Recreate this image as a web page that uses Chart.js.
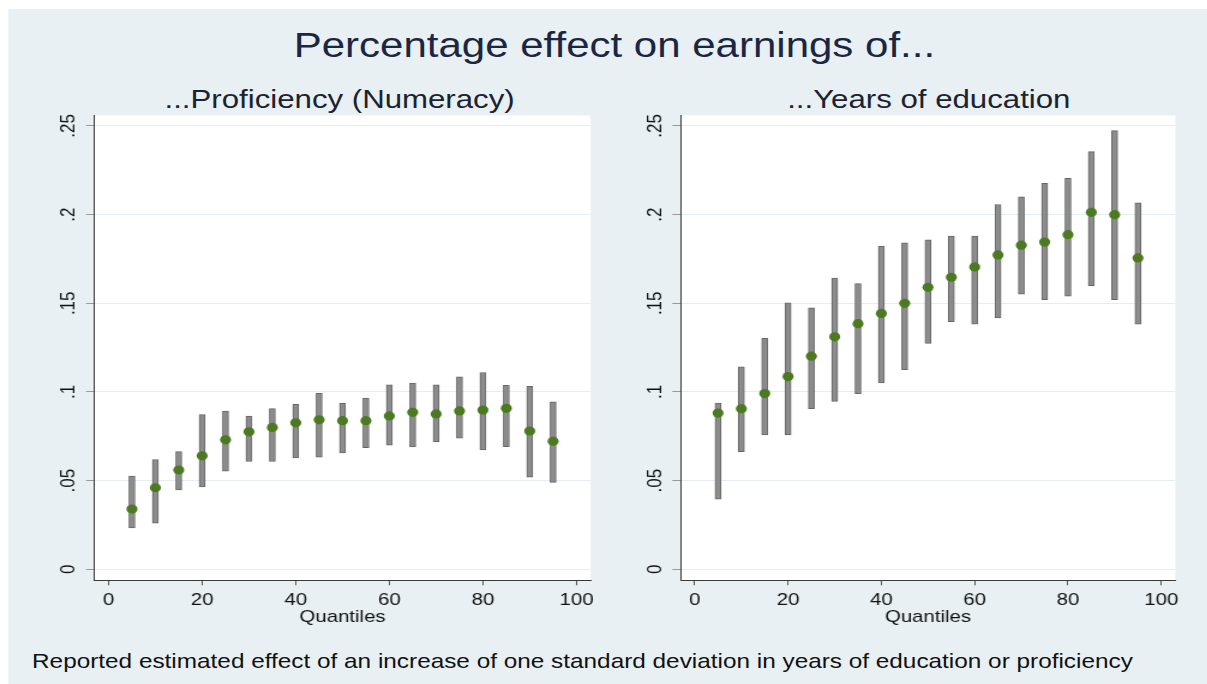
<!DOCTYPE html>
<html>
<head>
<meta charset="utf-8">
<script src="https://cdn.jsdelivr.net/npm/chart.js@4.4.1/dist/chart.umd.min.js"></script>
<style>
  html, body { margin: 0; padding: 0; background: #ffffff; overflow: hidden; width: 1207px; height: 684px; }
  #stage { position: absolute; left: 0; top: 0; width: 1006px; height: 684px; transform: scaleX(1.2); transform-origin: 0 0; }
  #bg { position: absolute; left: 6.7px; top: 9px; width: 1000px; height: 675px; background: #e8f0f3; }
  .txt { position: absolute; font-family: "Liberation Sans", Arial, sans-serif; white-space: nowrap; }
  #title { left: 212px; width: 600px; top: 26.5px; font-size: 35px; line-height: 35px; text-align: center; color: #1b2642; }
  .sub { width: 400px; top: 85.5px; font-size: 26px; line-height: 26px; text-align: center; color: #1b2230; }
  #sub1 { left: 83px; }
  #sub2 { left: 574px; }
  #note { left: 26.7px; top: 650.8px; font-size: 20.3px; line-height: 20.3px; color: #111; }
  canvas { position: absolute; left: 0; top: 0; }
</style>
</head>
<body>
<div id="stage">
  <div id="bg"></div>
  <div id="title" class="txt">Percentage effect on earnings of...</div>
  <div id="sub1" class="txt sub">...Proficiency (Numeracy)</div>
  <div id="sub2" class="txt sub">...Years of education</div>
  <div id="note" class="txt">Reported estimated effect of an increase of one standard deviation in years of education or proficiency</div>
  <canvas id="c1" width="1006" height="684"></canvas>
  <canvas id="c2" width="1006" height="684"></canvas>
</div>
<script>
// ---- data ----
const quantiles = [5, 10, 15, 20, 25, 30, 35, 40, 45, 50, 55, 60, 65, 70, 75, 80, 85, 90, 95];

const numeracyEst = [0.0340, 0.0460, 0.0560, 0.0640, 0.0730, 0.0775, 0.0800, 0.0826, 0.0843, 0.0838, 0.0838, 0.0865, 0.0885, 0.0876, 0.0893, 0.0898, 0.0908, 0.0780, 0.0722];
const numeracyLo  = [0.0234, 0.0260, 0.0447, 0.0464, 0.0553, 0.0608, 0.0608, 0.0628, 0.0632, 0.0656, 0.0686, 0.0700, 0.0690, 0.0718, 0.0739, 0.0673, 0.0692, 0.0519, 0.0490];
const numeracyHi  = [0.0525, 0.0619, 0.0664, 0.0872, 0.0892, 0.0864, 0.0906, 0.0930, 0.0992, 0.0936, 0.0966, 0.1040, 0.1050, 0.1040, 0.1086, 0.1110, 0.1038, 0.1032, 0.0944];

const educationEst = [0.0881, 0.0906, 0.0991, 0.1087, 0.1202, 0.1311, 0.1385, 0.1443, 0.1500, 0.1590, 0.1647, 0.1705, 0.1773, 0.1828, 0.1845, 0.1887, 0.2013, 0.2000, 0.1756];
const educationLo  = [0.0396, 0.0664, 0.0758, 0.0758, 0.0906, 0.0947, 0.0990, 0.1051, 0.1126, 0.1274, 0.1396, 0.1383, 0.1417, 0.1551, 0.1521, 0.1540, 0.1600, 0.1521, 0.1383];
const educationHi  = [0.0938, 0.1142, 0.1302, 0.1502, 0.1475, 0.1642, 0.1611, 0.1823, 0.1841, 0.1858, 0.1879, 0.1879, 0.2057, 0.2101, 0.2176, 0.2205, 0.2355, 0.2474, 0.2067];

const xTickValues = [0, 20, 40, 60, 80, 100];
const yTickValues = [0, 0.05, 0.1, 0.15, 0.2, 0.25];
const yTickLabels = ['0', '.05', '.1', '.15', '.2', '.25'];
const xAxisTitle = 'Quantiles';

// ---- drawing ----
const FONT = '"Liberation Sans", Arial, sans-serif';
Chart.defaults.font.family = FONT;

const panelPlugin = {
  id: 'panel',
  beforeDraw(chart) {
    const a = chart.chartArea, ctx = chart.ctx;
    ctx.save();
    ctx.fillStyle = '#ffffff';
    ctx.fillRect(a.left, a.top, a.right - a.left, a.bottom - a.top);
    ctx.restore();
  },
  afterDraw(chart) {
    const y = chart.scales.y, ctx = chart.ctx;
    ctx.save();
    ctx.font = '17px ' + FONT;
    ctx.fillStyle = '#111111';
    ctx.textAlign = 'center';
    ctx.textBaseline = 'middle';
    yTickValues.forEach((v, i) => {
      const py = y.getPixelForValue(v);
      ctx.save();
      ctx.translate(chart.chartArea.left - 21, py);
      ctx.rotate(-Math.PI / 2);
      ctx.fillText(yTickLabels[i], 0, 0);
      ctx.restore();
    });
    ctx.restore();
  }
};

function makeChart(id, est, lo, hi, area) {
  const yW = 30, xH = 50;
  return new Chart(document.getElementById(id), {
    type: 'bar',
    data: {
      datasets: [
        {
          type: 'scatter',
          data: quantiles.map((q, i) => ({ x: q, y: est[i] })),
          pointRadius: 4.6,
          pointHoverRadius: 4.6,
          pointBackgroundColor: '#4b7a21',
          pointBorderWidth: 0,
          order: 0
        },
        {
          type: 'bar',
          data: quantiles.map((q, i) => ({ x: q, y: [lo[i], hi[i]] })),
          backgroundColor: '#8c8c8c',
          borderColor: '#666666',
          borderWidth: 1,
          borderSkipped: false,
          barThickness: 5,
          order: 1
        }
      ]
    },
    options: {
      responsive: false,
      animation: false,
      devicePixelRatio: 1,
      events: [],
      layout: {
        padding: { left: area.left - yW, right: 1006 - area.right, top: area.top, bottom: 684 - area.bottom - xH }
      },
      plugins: { legend: { display: false }, tooltip: { enabled: false }, title: { display: false } },
      scales: {
        x: {
          type: 'linear',
          min: -3, max: 103,
          offset: false,
          afterBuildTicks: s => { s.ticks = xTickValues.map(v => ({ value: v })); },
          afterFit: s => { s.height = xH; },
          grid: { offset: false, drawOnChartArea: false, drawTicks: true, tickLength: 5, tickColor: '#555555', tickWidth: 1 },
          border: { display: true, color: '#3a3a3a', width: 1 },
          ticks: { font: { size: 17 }, color: '#111111', padding: 5, maxRotation: 0, autoSkip: false },
          title: { display: true, text: xAxisTitle, font: { size: 17 }, color: '#111111', padding: { top: 0, bottom: 3 } }
        },
        y: {
          type: 'linear',
          min: -0.0062, max: 0.2559,
          afterBuildTicks: s => { s.ticks = yTickValues.map(v => ({ value: v })); },
          afterFit: s => { s.width = yW; },
          grid: { color: '#e4eef2', lineWidth: 1, drawTicks: true, tickLength: 7, tickColor: '#999999' },
          border: { display: true, color: '#3a3a3a', width: 1 },
          ticks: { display: false }
        }
      }
    },
    plugins: [panelPlugin]
  });
}

makeChart('c1', numeracyEst, numeracyLo, numeracyHi, { left: 78.75, right: 492.1, top: 115.5, bottom: 580.3 });
makeChart('c2', educationEst, educationLo, educationHi, { left: 567.25, right: 979.4, top: 115.5, bottom: 580.3 });
</script>
</body>
</html>
